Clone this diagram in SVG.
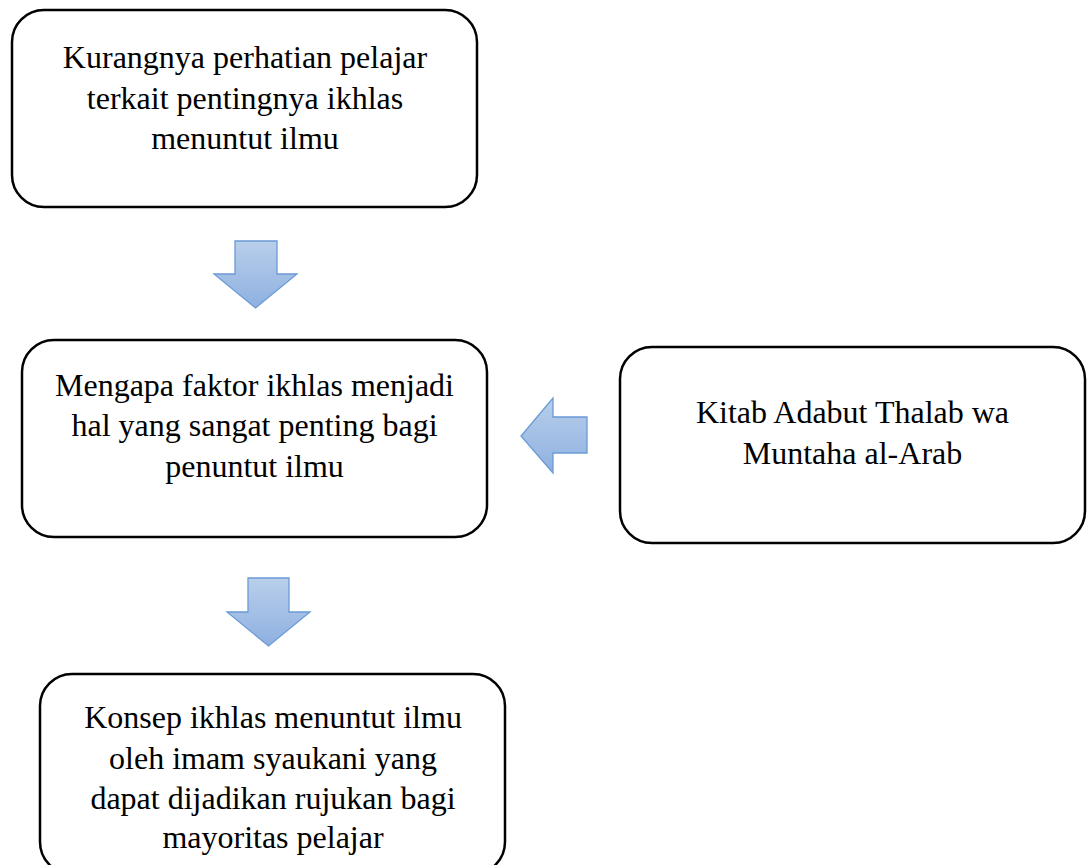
<svg xmlns="http://www.w3.org/2000/svg" width="1091" height="865" viewBox="0 0 1091 865">
<defs>
<linearGradient id="ag" x1="0" y1="0" x2="0" y2="1">
<stop offset="0" stop-color="#b9cfeb"/>
<stop offset="1" stop-color="#8eb0e0"/>
</linearGradient>
<style>
.box{fill:#fff;stroke:#000;stroke-width:2.5}
.t{font-family:"Liberation Serif","Times New Roman",serif;font-size:32px;fill:#000;text-anchor:middle}
.arr{fill:url(#ag);stroke:#6a9bd6;stroke-width:1.3;stroke-linejoin:miter}
</style>
</defs>
<rect width="1091" height="865" fill="#fff"/>
<g id="n1">
<rect class="box" x="12" y="10" width="465" height="197" rx="32"/>
<text class="t" x="245" y="68">Kurangnya perhatian pelajar</text>
<text class="t" x="245" y="109">terkait pentingnya ikhlas</text>
<text class="t" x="245" y="149">menuntut ilmu</text>
</g>
<g id="n2">
<rect class="box" x="22" y="340" width="465" height="197" rx="32"/>
<text class="t" x="254.5" y="396">Mengapa faktor ikhlas menjadi</text>
<text class="t" x="254.5" y="436">hal yang sangat penting bagi</text>
<text class="t" x="254.5" y="477">penuntut ilmu</text>
</g>
<g id="n3">
<rect class="box" x="620" y="347" width="465" height="196" rx="32"/>
<text class="t" x="852.5" y="423">Kitab Adabut Thalab wa</text>
<text class="t" x="852.5" y="464">Muntaha al-Arab</text>
</g>
<g id="n4">
<rect class="box" x="40" y="674" width="465" height="200" rx="32"/>
<text class="t" x="273" y="728">Konsep ikhlas menuntut ilmu</text>
<text class="t" x="273" y="769">oleh imam syaukani yang</text>
<text class="t" x="273" y="809">dapat dijadikan rujukan bagi</text>
<text class="t" x="273" y="848">mayoritas pelajar</text>
</g>
<g id="connectors">
<path class="arr" d="M235,241 H277 V274 H297 L255.5,308 L214,274 H235 Z"/>
<path class="arr" d="M248,578 H289 V612 H310 L268.5,646 L227,612 H248 Z"/>
<path class="arr" d="M587,417 V453 H553 V473 L521,436 L553,398 V417 Z"/>
</g>
</svg>
